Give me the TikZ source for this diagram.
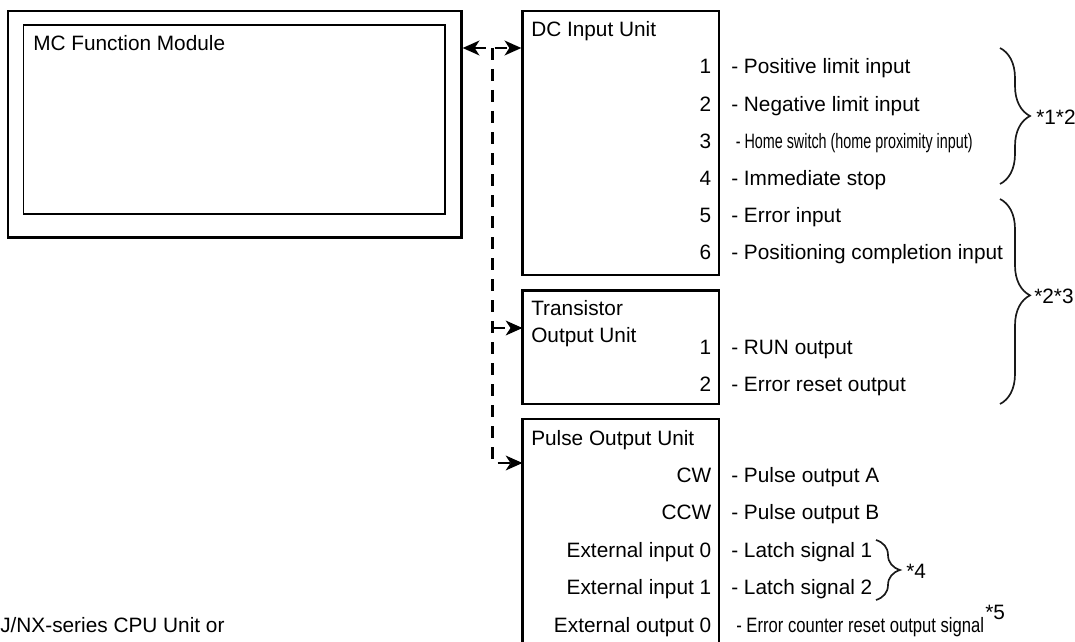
\documentclass[tikz,border=0pt]{standalone}
\usepackage{fontspec}
\setmainfont{Liberation Sans}
\usepackage{graphicx}
\usepackage{tikz}
\usetikzlibrary{arrows.meta,fit,decorations.pathreplacing}

\begin{document}
\begin{tikzpicture}[x=0.75pt, y=-0.75pt,
  every node/.style={font=\fontsize{15.6}{20}\selectfont, inner sep=0pt},
  unitbox/.style={draw, line width=1.7pt},
  pin/.style={anchor=base east},
  sig/.style={anchor=base west},
  link/.style={line width=2pt, dash pattern=on 9pt off 6.75pt},
  tip/.style={-{Stealth[length=12.5pt,width=11pt,inset=3.5pt]}},
  grp/.style={decorate, decoration={brace, amplitude=#1}, line width=1.25pt, black!90}]
\useasboundingbox (0,0) rectangle (1075,642);
\clip (0,0) rectangle (1075,642);

% Units
\node[unitbox, fit={(8,11) (461.5,237.5)}] (mc) {};
\node[draw, line width=1pt, fit={(23.5,25) (445,214)}] (mcin) {};
\node[sig] (mctitle) at (33,51) {MC Function Module};
\node[unitbox, fit={(522.5,11) (719,275)}] (dc) {};
\node[unitbox, fit={(522.5,290.5) (719,404)}] (tr) {};
\node[unitbox, fit={(522.5,419) (719,680)}] (pu) {};
\node[sig] (dctitle) at (531,37) {DC Input Unit};
\node[anchor=north west, align=left] (trtitle) at (531,300.5) {Transistor\\Output Unit};
\node[sig] (putitle) at (531,445) {Pulse Output Unit};
\node[sig] (cpu) at (0,632) {J/NX-series CPU Unit or};

% Bus
\coordinate (hub) at (492.5,48);
\coordinate (trin) at (522.5,328);
\coordinate (puin) at (522.5,463);
\draw[link, {Stealth[length=12.5pt,width=11pt,inset=3.5pt]}-{Stealth[length=12.5pt,width=11pt,inset=3.5pt]}] (mc.east |- hub) -- (dc.west |- hub);
\draw[link, tip] (hub) |- (puin);
\draw[link, tip] (hub |- trin) -- (trin);

% DC input signals
\node[pin] (dc1) at (711.5,74) {1};
\node[sig] (dcs1) at (731,74) {- Positive limit input};
\node[pin] (dc2) at (711.5,111.1) {2};
\node[sig] (dcs2) at (731,111.1) {- Negative limit input};
\node[pin] (dc3) at (711.5,148.2) {3};
\node[sig] (dcs3) at (735.5,148.2) {\scalebox{0.69}[1]{- Home switch (home proximity input)}};
\node[pin] (dc4) at (711.5,185.3) {4};
\node[sig] (dcs4) at (731,185.3) {- Immediate stop};
\node[pin] (dc5) at (711.5,222.4) {5};
\node[sig] (dcs5) at (731,222.4) {- Error input};
\node[pin] (dc6) at (711.5,259.5) {6};
\node[sig] (dcs6) at (731,259.5) {- Positioning completion input};

% Transistor output signals
\node[pin] (tr1) at (711.5,354.5) {1};
\node[sig] (trs1) at (731,354.5) {- RUN output};
\node[pin] (tr2) at (711.5,391.6) {2};
\node[sig] (trs2) at (731,391.6) {- Error reset output};

% Pulse output signals
\node[pin] (pu1) at (711.5,482) {CW};
\node[sig] (pus1) at (731,482) {- Pulse output A};
\node[pin] (pu2) at (711.5,519.5) {CCW};
\node[sig] (pus2) at (731,519.5) {- Pulse output B};
\node[pin] (pu3) at (711.5,557) {External input 0};
\node[sig] (pus3) at (731,557) {- Latch signal 1};
\node[pin] (pu4) at (711.5,594.5) {External input 1};
\node[sig] (pus4) at (731,594.5) {- Latch signal 2};
\node[pin] (pu5) at (711.5,632) {External output 0};
\node[sig] (pus5) at (736,632) {\scalebox{0.8}[1]{- Error counter reset output signal}};

% Notes
\draw[grp=22.5pt] (1000,48) -- (1000,184);
\node[anchor=west] (note12) at (1036,117) {*1*2};
\draw[grp=22.5pt, /pgf/decoration/aspect=0.47] (1000,199) -- (1000,404);
\node[anchor=west] (note23) at (1034,296) {*2*3};
\draw[grp=18pt] (876,540) -- (876,600);
\node[anchor=west] (note4) at (906,571) {*4};
\node[sig] (note5) at (985,619) {*5};
\end{tikzpicture}
\end{document}
